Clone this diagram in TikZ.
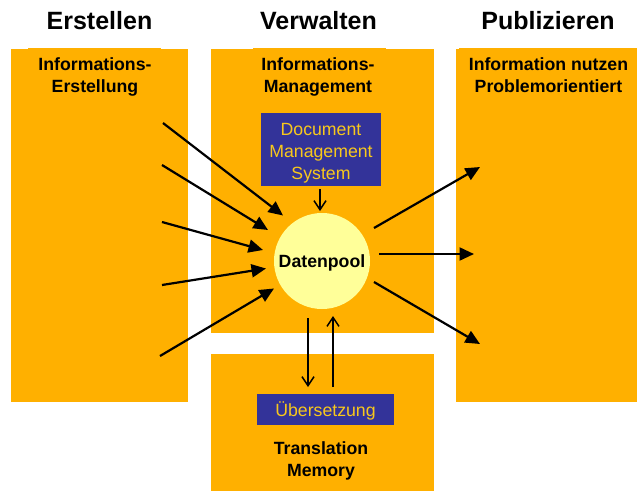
\documentclass[tikz,border=0pt]{standalone}
\usepackage{fontspec}
\setmainfont{Liberation Sans}
\usetikzlibrary{arrows.meta}
\definecolor{boxorange}{HTML}{FFB000}
\definecolor{boxblue}{HTML}{333399}
\definecolor{boxtext}{HTML}{F8C81C}
\definecolor{poolfill}{HTML}{FFFF99}
\tikzset{
  x=1pt,y=-1pt,
  panel/.style={fill=boxorange,draw=none,inner sep=0pt,minimum width=#1},
  bluebox/.style={fill=boxblue,draw=none,inner sep=0pt},
  bluetext/.style={inner sep=0pt,text=boxtext,align=center,font=\fontsize{17.7pt}{21.8pt}\selectfont},
  heading/.style={inner sep=0pt,anchor=base,font=\fontsize{25pt}{30pt}\selectfont\bfseries},
  sublabel/.style={inner sep=0pt,align=center,font=\fontsize{17.7pt}{21.8pt}\selectfont\bfseries},
  thick arrow/.style={-{Triangle[length=14.5pt,width=13pt]},line width=2.2pt,black},
  open arrow/.style={-{Straight Barb[length=9pt,width=12pt,line width=1.5pt]},line width=1.7pt,black},
}
\begin{document}
\begin{tikzpicture}
\useasboundingbox (0,0) rectangle (637,491);
% panels
\node[panel=177pt,minimum height=353pt] (erst) at (99.5,225.5) {};
\node[panel=223pt,minimum height=284pt] (verw) at (322.5,191) {};
\node[panel=223pt,minimum height=137pt] (tm) at (322.5,422.5) {};
\node[panel=181pt,minimum height=353pt] (publ) at (546.5,225.5) {};
\fill[boxorange] (28,48) rectangle (161,50);
\fill[boxorange] (253,48) rectangle (386,50);
\fill[boxorange] (459,48) rectangle (637,50);
% headings
\node[heading] (h1) at (99.5,29) {Erstellen};
\node[heading] (h2) at (318.5,29) {Verwalten};
\node[heading] (h3) at (548,29) {Publizieren};
% panel labels
\node[sublabel] (l1) at (95,77) {Informations-\\Erstellung};
\node[sublabel] (l2) at (318,77) {Informations-\\Management};
\node[sublabel] (l3) at (548.5,75) {Information nutzen\\Problemorientiert};
\node[sublabel] (l4) at (321,461) {Translation\\Memory};
% blue boxes
\node[bluebox,minimum width=120pt,minimum height=73pt] (dms) at (321,149.5) {};
\node[bluetext] (dmstext) at (321,153) {Document\\Management\\System};
\node[bluebox,minimum width=137pt,minimum height=31pt] (ueb) at (325.5,409.5) {};
\node[bluetext] (uebtext) at (325.5,410.5) {Übersetzung};
% pool
\node[circle,fill=poolfill,draw=none,minimum size=96pt,inner sep=0pt] (pool) at (322,261) {};
\node[sublabel] (pooltext) at (322,262.5) {Datenpool};
% free ends
\coordinate (a1s) at (163,123); \coordinate (a1e) at (283,215.5);
\coordinate (a2s) at (162,165); \coordinate (a2e) at (268,230);
\coordinate (a3s) at (162,222); \coordinate (a3e) at (263,250);
\coordinate (a4s) at (162,285); \coordinate (a4e) at (266,268.5);
\coordinate (a5s) at (160,356); \coordinate (a5e) at (274,288.5);
\coordinate (b1s) at (374,228); \coordinate (b1e) at (480,167);
\coordinate (b2s) at (379,254); \coordinate (b2e) at (474,254);
\coordinate (b3s) at (374,282); \coordinate (b3e) at (480,344);
\coordinate (c1e) at (320,211);
\coordinate (c2s) at (308,318); \coordinate (c2e) at (308,387);
\coordinate (c3s) at (333,387); \coordinate (c3e) at (333,316);
\draw[thick arrow] (a1s) -- (a1e);
\draw[thick arrow] (a2s) -- (a2e);
\draw[thick arrow] (a3s) -- (a3e);
\draw[thick arrow] (a4s) -- (a4e);
\draw[thick arrow] (a5s) -- (a5e);
\draw[thick arrow] (b1s) -- (b1e);
\draw[thick arrow] (b2s) -- (b2e);
\draw[thick arrow] (b3s) -- (b3e);
\draw[open arrow] (dms.south -| c1e) ++(0,3) -- (c1e);
\draw[open arrow] (c2s) -- (c2e);
\draw[open arrow] (c3s) -- (c3e);
\end{tikzpicture}
\end{document}
